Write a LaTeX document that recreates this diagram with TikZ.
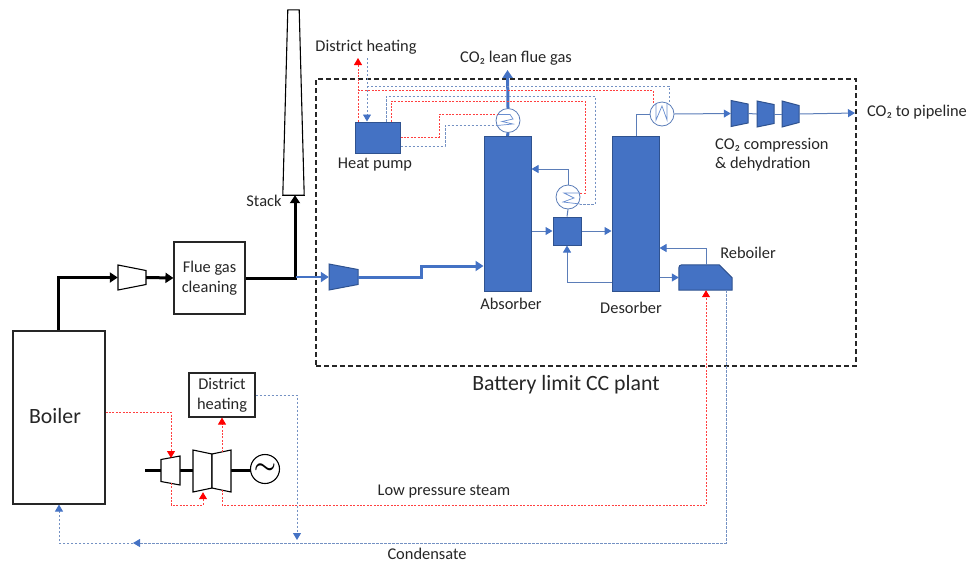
\documentclass[tikz,border=0pt]{standalone}
\usepackage{fontspec}
\setmainfont{Carlito}
\usepackage{xcolor}
\usetikzlibrary{arrows.meta,calc}
\definecolor{ccblue}{HTML}{4472C4}
\definecolor{ccedge}{HTML}{2F528F}
\definecolor{ccline}{HTML}{5B7DB8}
% name, x, y, width, left height, right height, style
\newcommand{\taperbox}[7]{%
  \node[inner sep=0pt, minimum width=#4pt, minimum height={max(#5,#6)*1pt}] (#1) at (#2,#3) {};
  \filldraw[#7] ({#2-#4/2},{#3-#5/2}) -- ({#2+#4/2},{#3-#6/2}) -- ({#2+#4/2},{#3+#6/2}) -- ({#2-#4/2},{#3+#5/2}) -- cycle;
}

\begin{document}
\begin{tikzpicture}[x=1pt,y=-1pt,
    lab/.style={font=\fontsize{16.4}{19}\selectfont, inner sep=0pt, align=left, text=black!85},
    biglab/.style={font=\fontsize{21.8}{24}\selectfont, inner sep=0pt, text=black!85},
    whitebox/.style={draw=black!85, fill=white, line width=1.1pt, inner sep=0pt, align=center, text=black!85, font=\fontsize{16.4}{20}\selectfont},
    bluebox/.style={draw=ccedge, fill=ccblue, line width=1pt, inner sep=0pt},
    machw/.style={draw=black, fill=white, line width=1.1pt},
    machb/.style={draw=ccedge, fill=ccblue, line width=1pt},
    hx/.style={circle, draw=ccline, fill=white, line width=0.8pt, inner sep=0pt, minimum size=24pt},
    coil/.style={draw=ccblue!80, line width=0.7pt, line join=miter},
    gasline/.style={line width=3pt, black, -{Triangle[length=8pt,width=10pt]}},
    shaft/.style={line width=3pt, black},
    bluegas/.style={line width=3pt, ccblue, -{Triangle[length=8pt,width=10pt]}},
    liq/.style={line width=1pt, ccline, -{Triangle[length=7pt,width=8pt,color=ccblue]}},
    liqp/.style={line width=1pt, ccline},
    hot/.style={line width=0.9pt, red!75, dash pattern=on 2pt off 1.4pt},
    cold/.style={line width=0.9pt, ccline!85, dash pattern=on 2.4pt off 1.6pt},
    hottip/.style={hot, -{Triangle[length=7pt,width=8pt,color=red]}},
    coldtip/.style={cold, -{Triangle[length=7pt,width=8pt,color=ccblue]}}
]
\useasboundingbox (0,0) rectangle (968,563);

% Battery limit
\node[draw=black!85, line width=1.1pt, dash pattern=on 5pt off 3pt, minimum width=540pt, minimum height=287pt, inner sep=0pt] (limit) at (586,222.5) {};
\node[biglab] (limitlab) at (566,385) {Battery limit CC plant};

% Power plant side
\node[whitebox, minimum width=92pt, minimum height=173pt] (boiler) at (59,417.5) {};
\node[biglab] (boilerlab) at (55,416) {Boiler};
\taperbox{fan}{132}{277.5}{28}{25}{14}{machw}
\node[whitebox, minimum width=71pt, minimum height=72pt] (clean) at (209.5,278) {Flue gas\\cleaning};
\node[inner sep=0pt, minimum width=21pt, minimum height=185pt] (stack) at (293.5,102.5) {};
\filldraw[machw] (stack.south west) -- (stack.south east) -- ($(stack.north east)+(-5,0)$) -- ($(stack.north west)+(5,0)$) -- cycle;
\node[lab] (stacklab) at (264,201) {Stack};
\node[whitebox, minimum width=66pt, minimum height=44pt] (dh) at (222,395) {District\\heating};

% Turbine set
\draw[shaft] (145,470) -- (161,470);
\draw[shaft] (180,470) -- (193,470);
\draw[shaft] (231,470) -- (252,470);
\taperbox{hpt}{170.5}{470.5}{19}{22}{29}{machw}
\taperbox{ipt}{202.5}{471}{19}{42}{34}{machw}
\taperbox{lpt}{221.5}{471}{19}{34}{42}{machw}
\node[circle, draw=black, fill=white, line width=1.1pt, minimum size=29pt, inner sep=0pt, font=\fontsize{24}{24}\selectfont\boldmath] (gen) at (265,469) {$\sim$};

% CC plant
\taperbox{blower}{343.5}{277}{29}{26}{15}{machb}
\node[bluebox, minimum width=47pt, minimum height=155pt] (abs) at (507.5,214) {};
\node[bluebox, minimum width=47pt, minimum height=155pt] (des) at (635.5,214) {};
\node[bluebox, minimum width=28pt, minimum height=28pt] (hxbox) at (567,231) {};
\node[bluebox, minimum width=45pt, minimum height=31pt] (hp) at (377.5,137.5) {};
\node[inner sep=0pt, minimum width=53pt, minimum height=25pt] (reb) at (705.5,277.5) {};
\filldraw[machb] (reb.south west) [rounded corners=3pt] -- (reb.north west) [sharp corners] -- ($(reb.north east)+(-13,0)$) -- ($(reb.north east)+(0,13)$) -- (reb.south east) -- cycle;
\node[hx] (hxt) at (508,120.5) {};
\node[hx] (hxm) at (568,197) {};
\node[hx] (hxd) at (662,114) {};
\taperbox{co1}{739.5}{113.5}{17}{26}{19}{machb}
\taperbox{co2}{765.5}{114}{17}{26}{19}{machb}
\taperbox{co3}{790.5}{114}{17}{26}{17}{machb}

% Coils
\draw[coil] (hxt.center) ++(-11,-6) -- ++(13,0) -- ++(3,4.5) -- ++(-11,2.5) -- ++(11,2.5) -- ++(-16,1.5);
\draw[coil] (hxm.center) ++(12,-4) -- ++(-16,0) -- ++(10,5) -- ++(-11,4) -- ++(17,2);
\draw[coil] (hxd.center) ++(-6,-11) -- ++(0,17) -- ++(6,-14) -- ++(5,14) -- ++(0,-17);

% Labels
\node[lab] (dhlab) at (366,47) {District heating};
\node[lab] (leanlab) at (516,58) {CO₂ lean flue gas};
\node[lab] (hplab) at (375,165) {Heat pump};
\node[lab] (pipelab) at (917,112) {CO₂ to pipeline};
\node[lab, anchor=north west, font=\fontsize{16.4}{19.5}\selectfont] (complab) at (715,138) {CO₂ compression\\\& dehydration};
\node[lab] (abslab) at (511,304) {Absorber};
\node[lab] (deslab) at (631,308) {Desorber};
\node[lab] (reblab) at (748,253) {Reboiler};
\node[lab] (lpslab) at (444,492) {Low pressure steam};
\node[lab] (condlab) at (427,553.5) {Condensate};

% Flue gas
\draw[gasline] (58,0 |- boiler.north) |- (fan.west);
\draw[gasline] (fan.east) -- (clean.west);
\draw[gasline] (clean.east) -| (295,0 |- stack.south);
\draw[bluegas, line width=2.5pt] (296,277) -- (blower.west);
\draw[bluegas] (blower.east) -- (421,277) -- (421,266) -- (abs.west |- 0,266);
\draw[line width=3pt, ccblue] (abs.north) -- (hxt.south);
\coordinate (leanend) at (507.5,70);
\draw[bluegas] (hxt.north) -- (leanend);

% Solvent and CO2
\draw[liq] (abs.east |- hxbox.west) -- (hxbox.west);
\draw[liq] (hxbox.east) -- (des.west |- hxbox.east);
\draw[liqp] (hxbox.north) -- (hxm.south);
\draw[liq] (hxm.north) |- (abs.east |- 0,169);
\draw[liq] (des.west |- 0,282) -| (hxbox.south);
\draw[liq] (des.east |- 0,277.5) -- (reb.west);
\draw[liq] (706,0 |- reb.north) -- (706,248) -- (des.east |- 0,248);
\draw[liqp] (636,0 |- des.north) |- (hxd.west);
\draw[liq] (hxd.east) -- (co1.west);
\draw[liqp] (co1.east) -- (co2.west);
\draw[liqp] (co2.east) -- (co3.west);
\coordinate (pipeend) at (855,113);
\draw[liq] (co3.east) -- (pipeend);

% Heat pump loops
\coordinate (dhred) at (358,58);
\coordinate (dhblue) at (367,58);
\draw[hottip] (dhred |- hp.north) -- (dhred);
\draw[coldtip] (dhblue) -- (dhblue |- hp.north);
\draw[hot] (358,90) -- (653,90) -- (653,103);
\draw[cold] (367,86) -- (669,86) -- (669,103);
\draw[cold] (386,0 |- hp.north) -- (386,96) -- (595,96) -- (595,204) -- (580,204);
\draw[hot] (391,0 |- hp.north) -- (391,101) -- (585,101) -- (585,193) -- (580,193);
\draw[hot] (hp.east |- 0,137) -- (439,137) -- (439,114) -- (497,114);
\draw[cold] (hp.east |- 0,146) -- (445,146) -- (445,125) -- (497,125);

% Steam and condensate
\draw[hottip] (boiler.east |- 0,412) -| (171,458);
\draw[hottip] (171,483) -- (171,505) -- (203,505) -- (203,0 |- ipt.south);
\draw[hottip] (222,452) -- (222,0 |- dh.south);
\draw[hottip] (222,490) -- (222,505) -- (706,505) -- (706,0 |- reb.south);
\draw[coldtip] (dh.east) -| (297,540);
\coordinate (condmid) at (133,543);
\draw[coldtip] (726,0 |- reb.south) -- (726,543) -- (condmid);
\draw[coldtip] (condmid) -- (59,543) -- (59,0 |- boiler.south);
\end{tikzpicture}
\end{document}
